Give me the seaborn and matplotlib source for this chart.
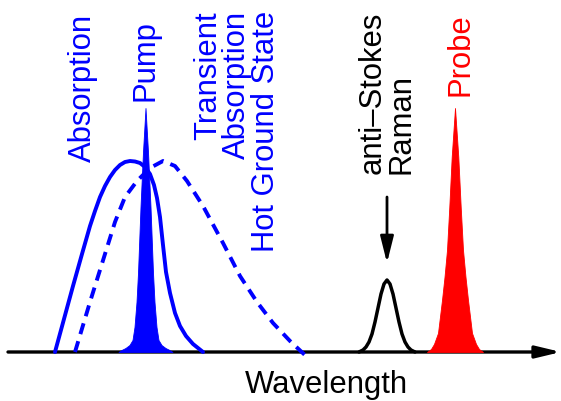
import matplotlib
matplotlib.use("Agg")
import matplotlib.pyplot as plt
import seaborn as sns
import pandas as pd

# Broad ground-state absorption band (solid)
abs_x = [55, 64, 73, 82, 90, 95, 100, 105, 110, 115, 120, 125, 130, 135, 140, 145,
         150, 154, 157, 160, 163, 166, 170, 175, 180, 186, 193, 203]
abs_y = [0, 33, 66, 98, 126, 141, 155, 166, 175, 182, 187, 190, 191, 190.5, 189, 185,
         178, 167, 154, 135, 107, 80, 59, 39, 26, 16, 8, 0]

# Transient absorption of the hot ground state (dashed)
hot_x = [75, 90, 105, 115, 125, 137, 150, 163, 175, 187, 203, 223, 240, 257, 273, 290, 307]
hot_y = [0, 50, 98, 130, 155, 171, 184, 191, 186, 171, 146, 109, 76, 50, 29, 11, -5]

# Pump pulse spectrum
pump_x = [118.5, 121.5, 125.5, 129.5, 132.5, 134.5, 136.5, 138, 140.5, 143, 145.5,
          148, 150.5, 153, 154.5, 156.5, 158.5, 161.5, 165.5, 169.5, 172.5]
pump_y = [0, 2, 4, 7, 12, 25, 50, 79, 145, 200, 244, 200, 145, 79, 50, 25, 12, 7, 4, 2, 0]

# anti-Stokes Raman band
raman_x = [359, 363, 366, 369, 372, 375, 378, 381, 384, 387, 390, 393, 396, 399, 402,
           405, 408, 411, 415]
raman_y = [0, 2, 5, 10, 18, 30, 44, 58, 68, 72, 68, 58, 44, 30, 18, 10, 5, 2, 0]

# Probe pulse spectrum
probe_x = [427, 431, 434, 438, 442, 444.5, 447, 449.3, 451.7, 455, 458.3, 460.7, 463,
           465.5, 468, 472, 476, 479, 483]
probe_y = [0, 3, 8, 19, 52, 75, 102, 145, 195, 244, 195, 145, 102, 75, 52, 19, 8, 3, 0]

BLUE = "#0000FF"
RED = "#FF0000"

sns.set_theme(style="white")
plt.rcParams["font.family"] = ["Liberation Sans", "DejaVu Sans"]

fig = plt.figure(figsize=(5.61, 4.01), dpi=100)
ax = fig.add_axes([0, 0, 1, 1])
ax.set_xlim(0, 561)
ax.set_ylim(-49, 352)
ax.set_axis_off()

# Wavelength axis with arrow
ax.annotate("", xy=(561, 0), xytext=(8, 0),
            arrowprops=dict(arrowstyle="-|>,head_length=0.75,head_width=0.18",
                            lw=2.4, color="black", mutation_scale=20,
                            shrinkA=0, shrinkB=0),
            zorder=1)

curves = pd.DataFrame({"x": abs_x, "y": abs_y})
hot = pd.DataFrame({"x": hot_x, "y": hot_y})
raman = pd.DataFrame({"x": raman_x, "y": raman_y})

sns.lineplot(data=curves, x="x", y="y", ax=ax, color=BLUE, lw=2.8,
             sort=False, errorbar=None, zorder=3)
sns.lineplot(data=hot, x="x", y="y", ax=ax, color=BLUE, lw=2.8,
             linestyle=(0, (2.9, 1.9)), sort=False, errorbar=None, zorder=3)
sns.lineplot(data=raman, x="x", y="y", ax=ax, color="black", lw=2.5,
             sort=False, errorbar=None, zorder=3)

ax.fill_between(pump_x, 0, pump_y, color=BLUE, lw=0.6, zorder=4)
ax.fill_between(probe_x, 0, probe_y, color=RED, lw=0.6, zorder=4)

# Arrow pointing at the Raman band
ax.annotate("", xy=(387, 89), xytext=(387, 155),
            arrowprops=dict(arrowstyle="-|>,head_length=0.8,head_width=0.2",
                            lw=2.0, color="black", mutation_scale=20,
                            shrinkA=0, shrinkB=0))

fs = 22.3
ax.text(82.5, 190, "Absorption", rotation=90, ha="center", va="bottom",
        color=BLUE, fontsize=fs)
ax.text(146, 251, "Pump", rotation=90, ha="center", va="bottom",
        color=BLUE, fontsize=fs)
ax.text(237, 341, "Transient\nAbsorption\nHot Ground State", rotation=90,
        ha="center", va="top", multialignment="right", linespacing=0.96,
        color=BLUE, fontsize=fs)
ax.text(387, 178, "anti\u2013Stokes\nRaman", rotation=90, ha="center",
        va="bottom", multialignment="left", linespacing=0.96,
        color="black", fontsize=fs)
ax.text(461, 256, "Probe", rotation=90, ha="center", va="bottom",
        color=RED, fontsize=fs)
ax.text(326, -41, "Wavelength", ha="center", va="baseline",
        color="black", fontsize=fs)

fig.savefig("out.png", dpi=100)
